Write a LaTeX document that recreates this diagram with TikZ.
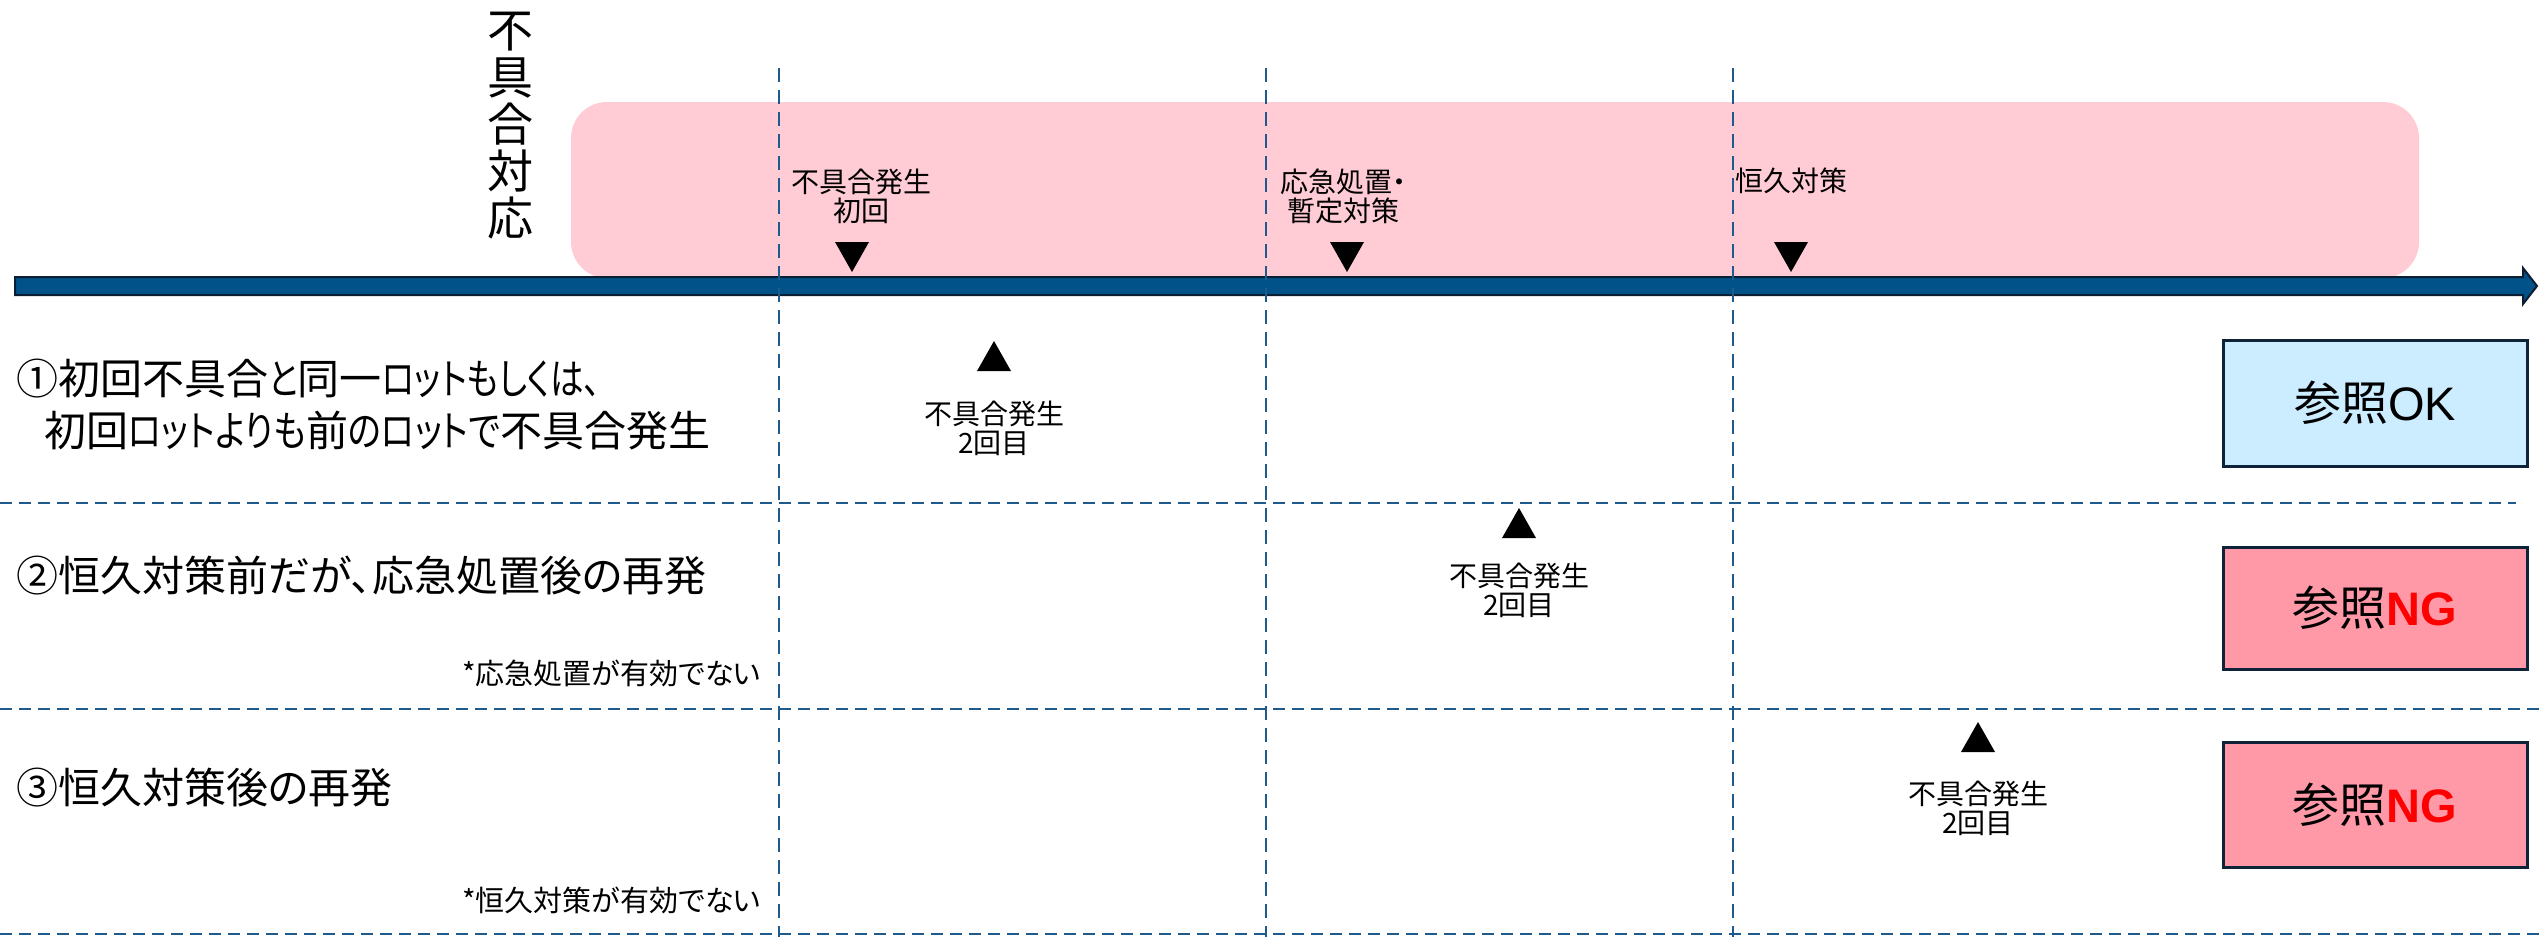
\documentclass[tikz,border=0pt]{standalone}
\usepackage{fontspec}
\usepackage{graphicx}
\setmainfont{Liberation Sans}
\newfontfamily\jp[RawFeature=+palt]{Noto Sans CJK JP}
\newcommand{\kn}[2]{\scalebox{#1}[1]{#2}}
\definecolor{pinkbg}{RGB}{255,203,212}
\definecolor{barblue}{RGB}{0,82,136}
\definecolor{barline}{RGB}{12,30,52}
\definecolor{dashblue}{RGB}{30,90,140}
\definecolor{okblue}{RGB}{204,236,255}
\definecolor{ngpink}{RGB}{255,153,168}
\definecolor{boxline}{RGB}{15,35,56}
\definecolor{ngred}{RGB}{255,0,0}
\tikzset{
  vdash/.style={dashblue, line width=2.7pt, dash pattern=on 14pt off 8pt},
  hdash/.style={dashblue, line width=2.7pt, dash pattern=on 12pt off 7pt},
  tdown/.pic={\fill[black] (-17,-15) -- (17,-15) -- (0,15) -- cycle;},
  tup/.pic={\fill[black] (-17,15) -- (17,15) -- (0,-15) -- cycle;},
  lbl/.style={inner sep=0pt, align=center, font=\jp\fontsize{28}{29}\selectfont},
  rowtxt/.style={inner sep=0pt, anchor=west, align=left, font=\jp\fontsize{42}{52}\selectfont},
  note/.style={inner sep=0pt, anchor=east, font=\jp\fontsize{29}{32}\selectfont},
  resbox/.style={draw=boxline, line width=3pt, minimum width=304pt, inner sep=0pt,
     font=\fontsize{47}{50}\selectfont},
}
\begin{document}
\begin{tikzpicture}[x=1pt,y=-1pt]
\useasboundingbox (0,0) rectangle (2539,937);
% pink band
\fill[pinkbg, rounded corners=36pt] (571,102) rectangle (2419,278);
% timeline arrow
\draw[barline, fill=barblue, line width=2pt, line join=miter]
  (15,277) -- (2523,277) -- (2523,268) -- (2537,286) -- (2523,304) -- (2523,295) -- (15,295) -- cycle;
% vertical dashed lines
\coordinate (v1t) at (779,68);  \coordinate (v1b) at (779,937);
\coordinate (v2t) at (1266,68); \coordinate (v2b) at (1266,937);
\coordinate (v3t) at (1733,68); \coordinate (v3b) at (1733,937);
\draw[vdash] (v1t) -- (v1b);
\draw[vdash] (v2t) -- (v2b);
\draw[vdash] (v3t) -- (v3b);
% horizontal dashed lines
\coordinate (h1l) at (0,503); \coordinate (h1r) at (2516,503);
\coordinate (h2l) at (0,709); \coordinate (h2r) at (2539,709);
\coordinate (h3l) at (0,934); \coordinate (h3r) at (2539,934);
\draw[hdash] (h1l) -- (h1r);
\draw[hdash] (h2l) -- (h2r);
\draw[hdash] (h3l) -- (h3r);
% vertical title
\node[inner sep=0pt, align=center, font=\jp\fontsize{46}{47}\selectfont] (title) at (510,126)
  {不\\具\\合\\対\\応};
% top labels
\node[lbl] (lab1) at (861,196) {不具合発生\\初回};
\node[lbl] (lab2) at (1343,196) {応急処置・\\暫定対策};
\node[lbl] (lab3) at (1791,181) {恒久対策};
\pic at (852,257) {tdown};
\pic at (1347,257) {tdown};
\pic at (1791,257) {tdown};
% row texts
\node[rowtxt] (row1) at (16,405) {①初回不具合\kn{0.8}{と}同一\kn{0.8}{ロットもしくは、}\\\hspace*{28pt}初回\kn{0.82}{ロットよりも}前\kn{0.82}{のロットで}不具合発生};
\node[rowtxt] (row2) at (16,576) {②恒久対策前だが、応急処置後の再発};
\node[rowtxt] (row3) at (16,788) {③恒久対策後の再発};
\node[note] (note2) at (761,673) {*応急処置が有効でない};
\node[note] (note3) at (761,900) {*恒久対策が有効でない};
% second occurrences
\pic at (994,356) {tup};
\node[lbl] (sec1) at (994,428) {不具合発生\\2回目};
\pic at (1519,523) {tup};
\node[lbl] (sec2) at (1519,590) {不具合発生\\2回目};
\pic at (1978,737) {tup};
\node[lbl] (sec3) at (1978,808) {不具合発生\\2回目};
% result boxes
\node[resbox, fill=okblue, minimum height=126pt] (res1) at (2375,403) {{\jp 参照}OK};
\node[resbox, fill=ngpink, minimum height=122pt] (res2) at (2375,608) {{\jp 参照}\textcolor{ngred}{\bfseries NG}};
\node[resbox, fill=ngpink, minimum height=125pt] (res3) at (2375,805) {{\jp 参照}\textcolor{ngred}{\bfseries NG}};
\end{tikzpicture}
\end{document}
